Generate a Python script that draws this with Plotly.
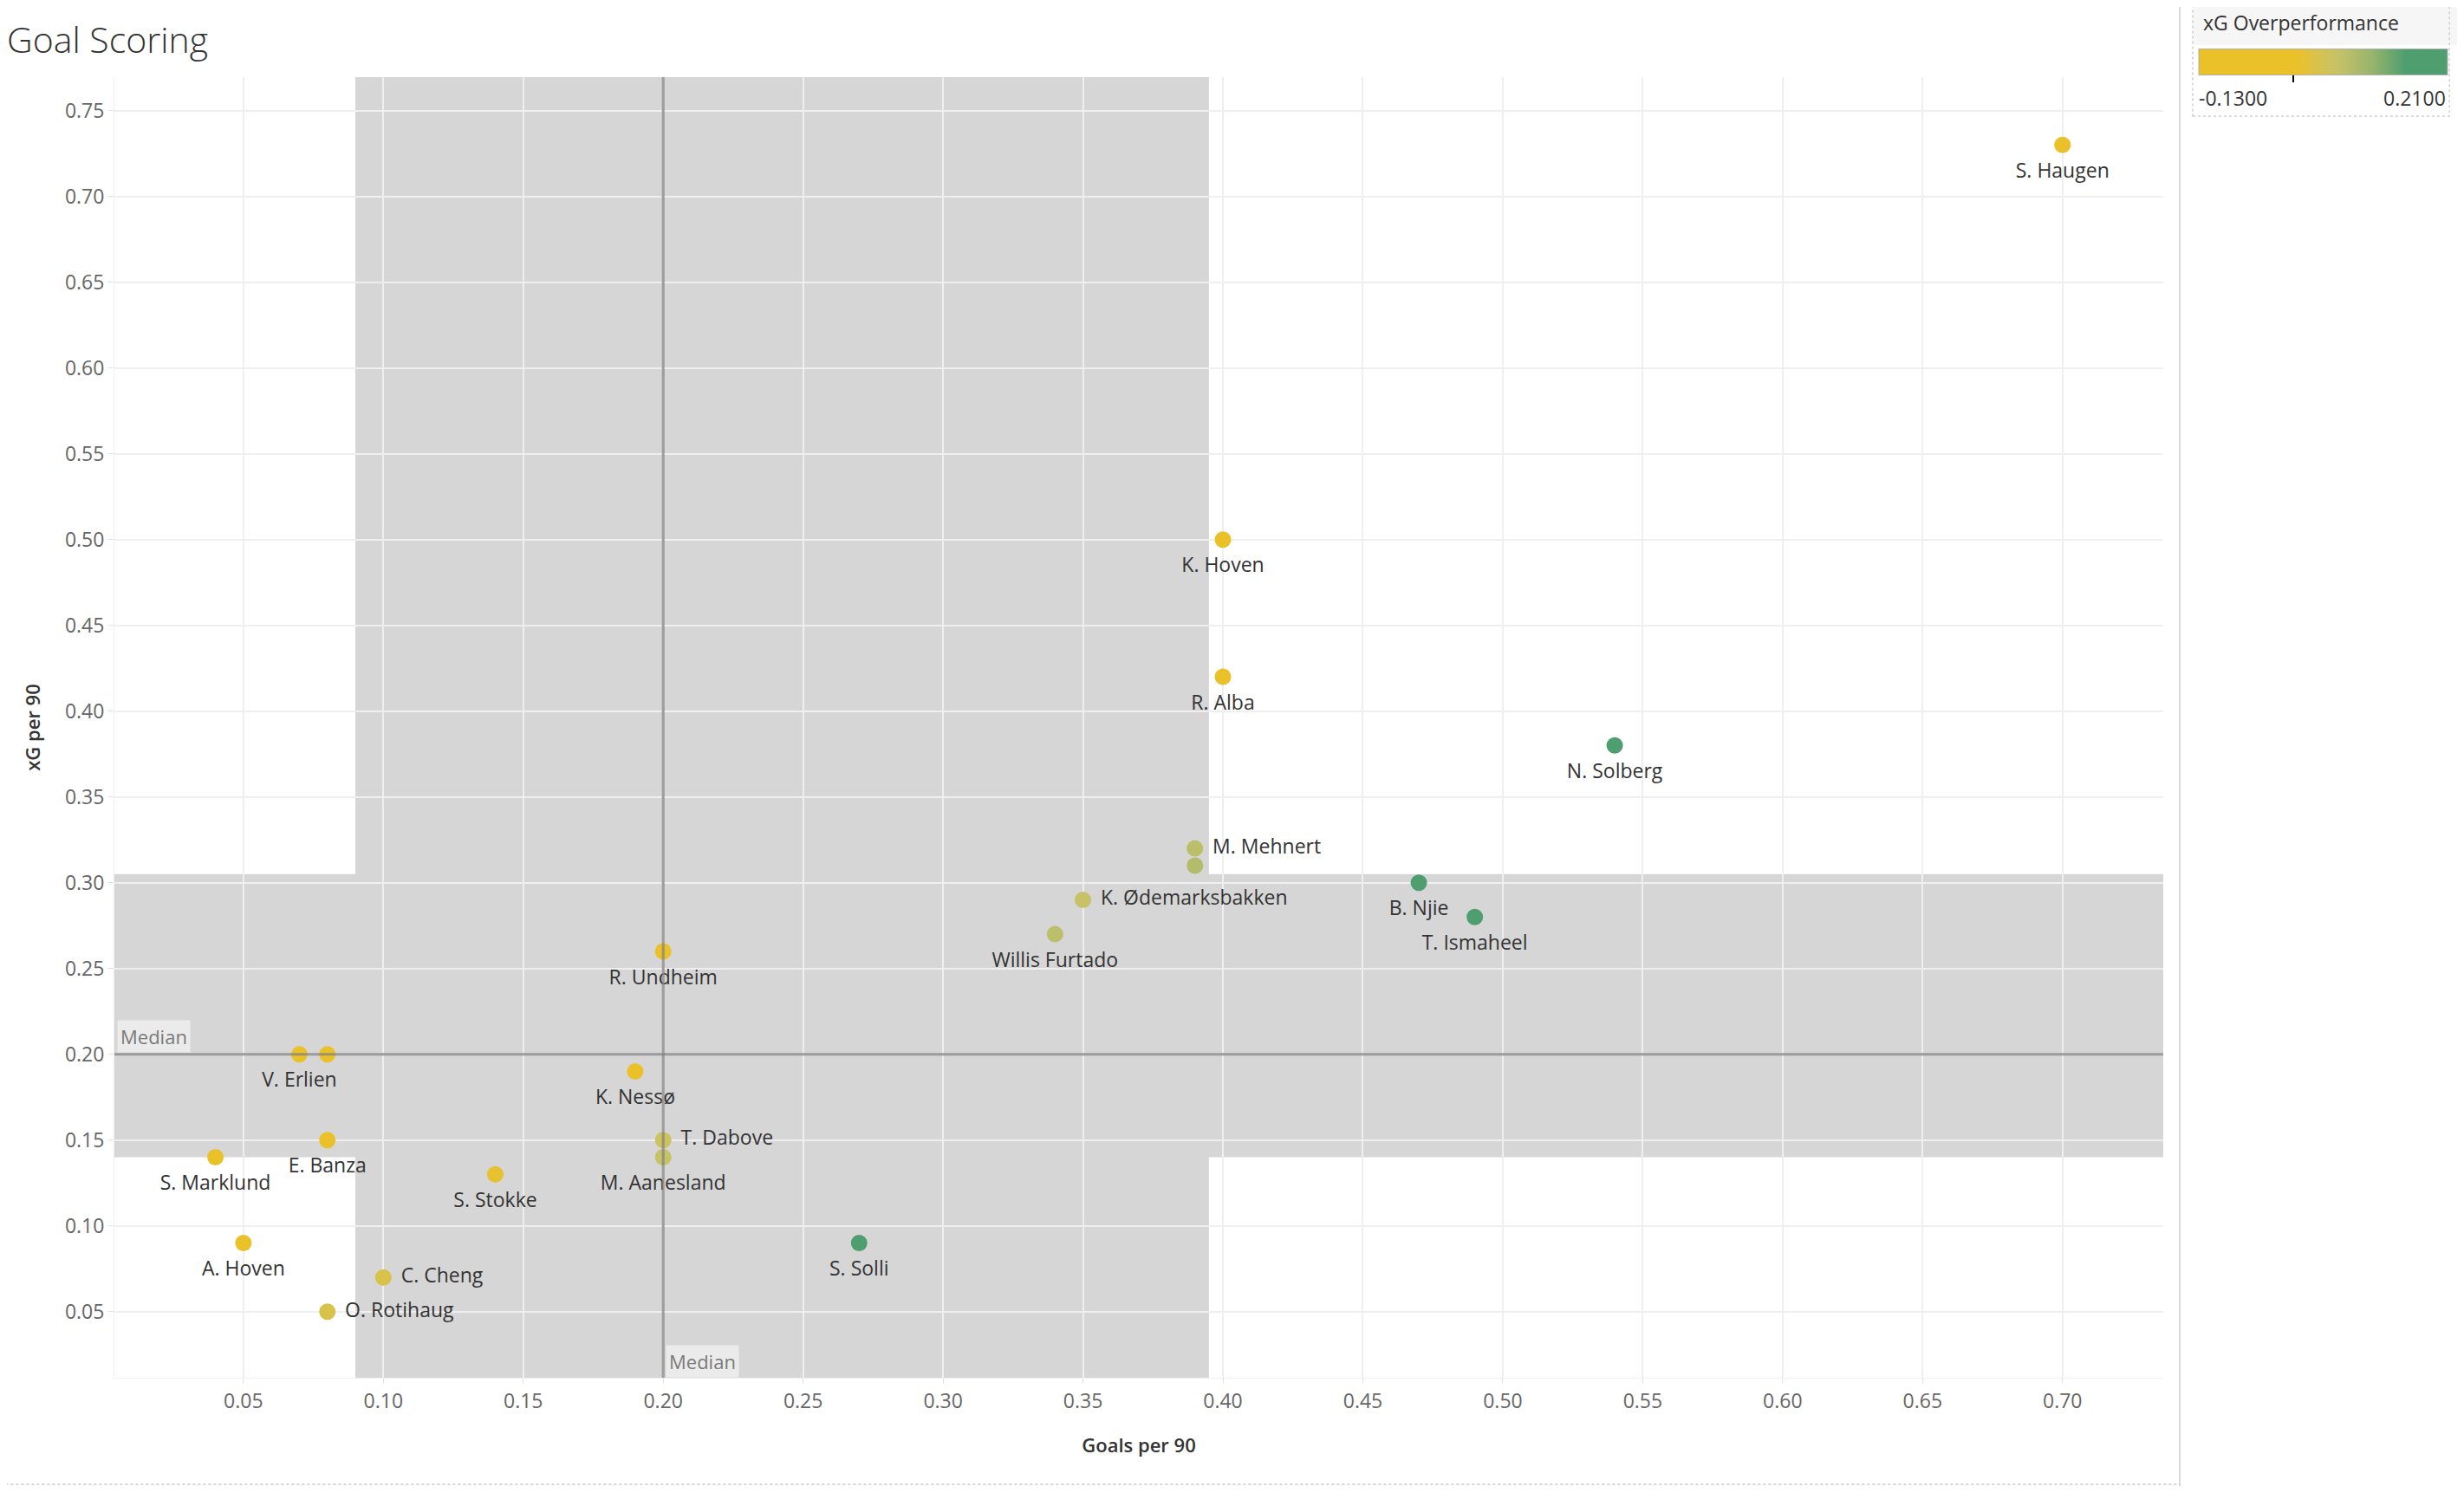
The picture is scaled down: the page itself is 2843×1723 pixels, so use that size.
import plotly.graph_objects as go

# ---------------- data ----------------
players = ["S. Haugen", "K. Hoven", "R. Alba", "N. Solberg", "M. Mehnert", "",
           "K. Ødemarksbakken", "Willis Furtado", "B. Njie", "T. Ismaheel",
           "R. Undheim", "V. Erlien", "", "K. Nessø", "T. Dabove", "M. Aanesland",
           "E. Banza", "S. Marklund", "S. Stokke", "A. Hoven", "C. Cheng",
           "O. Rotihaug", "S. Solli"]
goals_per_90 = [0.70, 0.40, 0.40, 0.54, 0.39, 0.39, 0.35, 0.34, 0.47, 0.49,
                0.20, 0.07, 0.08, 0.19, 0.20, 0.20, 0.08, 0.04, 0.14, 0.05,
                0.10, 0.08, 0.27]
xg_per_90 = [0.73, 0.50, 0.42, 0.38, 0.32, 0.31, 0.29, 0.27, 0.30, 0.28,
             0.26, 0.20, 0.20, 0.19, 0.15, 0.14, 0.15, 0.14, 0.13, 0.09,
             0.07, 0.05, 0.09]
xg_overperformance = [-0.03, -0.10, -0.02, 0.16, 0.07, 0.08, 0.06, 0.07, 0.17, 0.21,
                      -0.06, -0.13, -0.12, 0.00, 0.05, 0.06, -0.07, -0.10, 0.01, -0.04,
                      0.03, 0.03, 0.18]
label_side = ["bottom center", "bottom center", "bottom center", "bottom center",
              "middle right", "bottom center", "middle right", "bottom center",
              "bottom center", "bottom center", "bottom center", "bottom center",
              "bottom center", "bottom center", "middle right", "bottom center",
              "bottom center", "bottom center", "bottom center", "bottom center",
              "middle right", "middle right", "bottom center"]

median_goals = 0.20
median_xg = 0.20
band_goals = [0.09, 0.395]
band_xg = [0.14, 0.305]
color_min, color_max = -0.13, 0.21
color_min_label, color_max_label = "-0.1300", "0.2100"

# ---------------- geometry helpers (reference pixels -> paper) ----------------
OFF = 8                      # page body margin in the browser
W, H = 2843 - 2 * OFF, 1723 - 2 * OFF
L, R, T, B = 132, 2502, 89, 1590   # plot area in reference pixels


def px(xp):
    return (xp - L) / (R - L)


def py(yp):
    return (B - yp) / (B - T)


FONT = "Open Sans"
GOLD = "#EBC12A"
GREEN = "#4E9E70"
colorscale = [[0.0, GOLD], [0.40, GOLD], [0.47, "#D9C24A"], [0.56, "#C6C268"],
              [0.70, "#96B46C"], [0.83, GREEN], [1.0, GREEN]]

fig = go.Figure()

# markers
fig.add_trace(go.Scatter(
    x=goals_per_90, y=xg_per_90, mode="markers",
    marker=dict(size=19, color=xg_overperformance, colorscale=colorscale,
                cmin=color_min, cmax=color_max, line=dict(width=0),
                colorbar=dict(orientation="h", lenmode="pixels", len=287,
                              thickness=30, x=px(2686.5), xanchor="center",
                              y=py(76), yanchor="middle", xpad=0, ypad=0,
                              outlinecolor="#b0b0b0", outlinewidth=1,
                              tickvals=[0], ticks="outside", ticklen=8,
                              tickwidth=2, tickcolor="#000000",
                              showticklabels=False)),
    cliponaxis=False, hoverinfo="skip", showlegend=False,
))

# labels (transparent larger markers give Tableau-like label spacing)
fig.add_trace(go.Scatter(
    x=goals_per_90, y=xg_per_90, mode="markers+text",
    text=players, textposition=label_side,
    textfont=dict(family=FONT, size=23, color="#333333"),
    marker=dict(size=31, color="rgba(0,0,0,0)", line=dict(width=0)),
    cliponaxis=False, hoverinfo="skip", showlegend=False,
))

shapes = [
    # reference bands
    dict(type="rect", xref="x", yref="paper", x0=band_goals[0], x1=band_goals[1],
         y0=0, y1=1, fillcolor="#d6d6d6", line=dict(width=0), layer="below"),
    dict(type="rect", xref="paper", yref="y", x0=0, x1=1, y0=band_xg[0],
         y1=band_xg[1], fillcolor="#d6d6d6", line=dict(width=0), layer="below"),
    # median lines (drawn over the marks, as in the reference)
    dict(type="line", xref="x", yref="paper", x0=median_goals, x1=median_goals,
         y0=0, y1=1, line=dict(color="rgba(130,130,130,0.75)", width=3), layer="above"),
    dict(type="line", xref="paper", yref="y", x0=0, x1=1, y0=median_xg,
         y1=median_xg, line=dict(color="rgba(130,130,130,0.75)", width=3), layer="above"),
    # worksheet separator and bottom border
    dict(type="line", xref="paper", yref="paper", x0=px(2521), x1=px(2521),
         y0=py(1740), y1=py(-10), line=dict(color="#d9d9d9", width=2)),
    dict(type="line", xref="paper", yref="paper", x0=px(0), x1=px(2521),
         y0=py(1713), y1=py(1713), line=dict(color="#d4d4d4", width=2, dash="dot")),
    # legend card
    dict(type="rect", xref="paper", yref="paper", x0=px(2536), x1=px(2850),
         y0=py(52), y1=py(-10), fillcolor="#f6f6f6", line=dict(width=0)),
    dict(type="rect", xref="paper", yref="paper", x0=px(2536), x1=px(2833),
         y0=py(134), y1=py(0), fillcolor="rgba(0,0,0,0)",
         line=dict(color="#cfcfcf", width=1.5, dash="dot")),
]

annotations = [
    dict(text="Goal Scoring", xref="paper", yref="paper", x=px(6), y=py(45),
         xanchor="left", yanchor="middle", showarrow=False,
         font=dict(family=FONT, size=41, color="#333333", weight=300)),
    dict(text="Median", xref="paper", yref="y", x=0, y=median_xg, xanchor="left",
         yanchor="bottom", showarrow=False, bgcolor="#ebebeb", borderpad=3,
         xshift=3, yshift=2, font=dict(family=FONT, size=22, color="#7a7a7a")),
    dict(text="Median", xref="x", yref="paper", x=median_goals, y=0,
         xanchor="left", yanchor="bottom", showarrow=False, bgcolor="#ebebeb",
         borderpad=3, xshift=3, font=dict(family=FONT, size=22, color="#7a7a7a")),
    dict(text="xG Overperformance", xref="paper", yref="paper", x=px(2546),
         y=py(26), xanchor="left", yanchor="middle", showarrow=False,
         font=dict(family=FONT, size=23, color="#333333")),
    dict(text=color_min_label, xref="paper", yref="paper", x=px(2541), y=py(113),
         xanchor="left", yanchor="middle", showarrow=False,
         font=dict(family=FONT, size=23, color="#333333")),
    dict(text=color_max_label, xref="paper", yref="paper", x=px(2831), y=py(113),
         xanchor="right", yanchor="middle", showarrow=False,
         font=dict(family=FONT, size=23, color="#333333")),
]

axis_common = dict(
    showgrid=True, gridcolor="#efefef", gridwidth=2, zeroline=False,
    showline=True, linecolor="#efefef", linewidth=1,
    ticks="outside", ticklen=6, tickcolor="#e2e2e2", tickwidth=1,
    tickformat=".2f", dtick=0.05, tick0=0,
    tickfont=dict(family=FONT, size=23, color="#666666"),
)

fig.update_layout(
    width=W, height=H,
    margin=dict(l=L - OFF, r=W - (R - OFF), t=T - OFF, b=H - (B - OFF), pad=0),
    paper_bgcolor="white", plot_bgcolor="white",
    font=dict(family=FONT),
    shapes=shapes, annotations=annotations,
    xaxis=dict(range=[0.0039, 0.736],
               title=dict(text="Goals per 90", standoff=30,
                          font=dict(family=FONT, size=22, color="#333333", weight=600)),
               **axis_common),
    yaxis=dict(range=[0.0115, 0.7695],
               title=dict(text="xG per 90", standoff=22,
                          font=dict(family=FONT, size=22, color="#333333", weight=600)),
               **axis_common),
)

fig.write_html("out.html")
